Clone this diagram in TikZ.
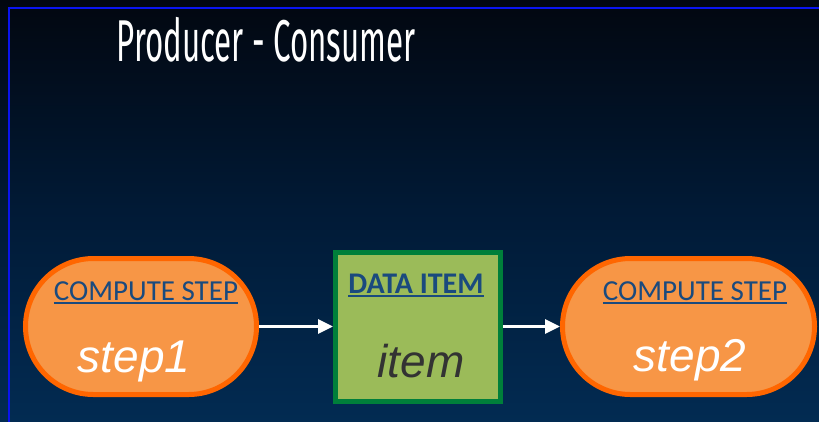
\documentclass[tikz,border=0pt]{standalone}
\usepackage{fontspec}
\setmainfont{Carlito}
\newfontfamily\titlefont{Fira Sans}
\newfontfamily\arialfont{Liberation Sans}
\usetikzlibrary{arrows.meta}
\definecolor{bgtop}{HTML}{020710}
\definecolor{bgmid}{HTML}{011A36}
\definecolor{bgbot}{HTML}{022B52}
\definecolor{framebl}{HTML}{0A14F0}
\definecolor{stepfill}{HTML}{F79646}
\definecolor{stepline}{HTML}{FF6600}
\definecolor{itemfill}{HTML}{9BBB59}
\definecolor{itemline}{HTML}{007F3A}
\definecolor{labelblue}{HTML}{1A4A7E}
\definecolor{itemtext}{HTML}{333333}
% underline with a visible rule
\newcommand{\thickul}[1]{\setbox0\hbox{#1}\rlap{\rule[-3.5bp]{\wd0}{1.8bp}}\box0}
\tikzset{
  stepbox/.style={draw=stepline, fill=stepfill, line width=5bp, rounded corners=68bp, minimum height=136bp},
  itembox/.style={draw=itemline, fill=itemfill, line width=5bp, minimum width=165bp, minimum height=149bp},
  kindlabel/.style={text=labelblue, anchor=base, inner sep=0pt},
  namelabel/.style={font=\arialfont\itshape\fontsize{46bp}{50bp}\selectfont, anchor=base, inner sep=0pt},
  flow/.style={draw=white, line width=3.2bp, -{Triangle[length=15bp,width=14bp]}},
}
\begin{document}
\begin{tikzpicture}[x=1bp,y=-1bp]
  % background
  \shade[top color=bgtop, bottom color=bgbot, middle color=bgmid] (0,0) rectangle (819,421);
  \useasboundingbox (0,0) rectangle (819,421);
  % slide frame
  \draw[framebl, line width=2.6bp] (9,430) -- (9,8) -- (830,8);

  % title
  \node[text=white, anchor=base, inner sep=0pt] (title) at (266,61)
    {\scalebox{0.53}[1]{\titlefont\fontsize{59bp}{64bp}\selectfont Producer - Consumer}};

  % shapes
  \node[stepbox, minimum width=231bp] (s1) at (141,326.5) {};
  \node[itembox] (it) at (418,326.5) {};
  \node[stepbox, minimum width=252bp] (s2) at (688.5,326.5) {};

  % labels
  \node[kindlabel, font=\fontsize{29bp}{32bp}\selectfont] (k1) at (146,300) {\thickul{COMPUTE STEP}};
  \node[kindlabel, font=\bfseries\fontsize{30bp}{32bp}\selectfont] (k2) at (416,293) {\thickul{DATA ITEM}};
  \node[kindlabel, font=\fontsize{29bp}{32bp}\selectfont] (k3) at (695,300) {\thickul{COMPUTE STEP}};

  \node[namelabel, text=white] (n1) at (134,372) {step1};
  \node[namelabel, text=itemtext] (n2) at (421,377) {item};
  \node[namelabel, text=white] (n3) at (690,371) {step2};

  % connectors
  \draw[flow] (s1.east) -- (s1.east -| it.west);
  \draw[flow] (it.east) -- (it.east -| s2.west);
\end{tikzpicture}
\end{document}
